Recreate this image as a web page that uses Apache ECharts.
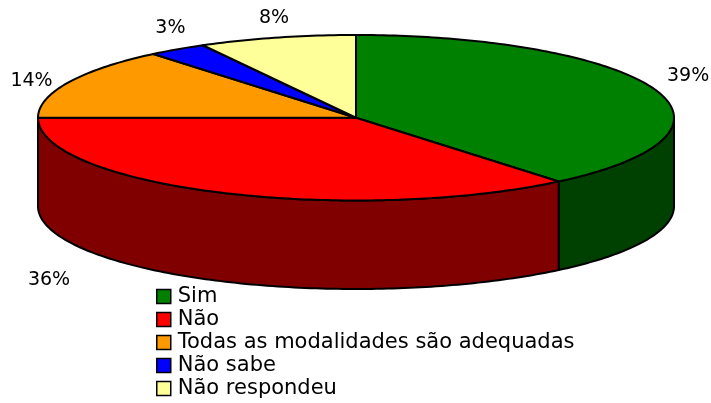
<!DOCTYPE html>
<html>
<head>
<meta charset="utf-8">
<script src="https://cdn.jsdelivr.net/npm/echarts@6/dist/echarts.min.js"></script>
<style>
  html, body { margin: 0; padding: 0; background: #fff; }
  #chart { width: 711px; height: 403px; }
</style>
</head>
<body>
<div id="chart"></div>
<script>
  // dados do gráfico
  const categories = ['Sim', 'Não', 'Todas as modalidades são adequadas', 'Não sabe', 'Não respondeu']
  const shares = [39, 36, 14, 3, 8]
  const percentLabels = ['39%', '36%', '14%', '3%', '8%']

  // estilo
  const topColors = ['#008000', '#FF0000', '#FF9900', '#0000FF', '#FFFF99']
  const sideColors = ['#004000', '#800000', '#804C00', '#000080', '#80804C']
  const labelNudge = [[3, -5], [-158, -24], [-8, 9], [11, -1], [5, 5]] // ajuste fino dos rótulos (px)
  const DEPTH = 1.07 // altura da lateral, em unidades do raio vertical
  const FONT = '"DejaVu Sans", sans-serif'

  // início/fim acumulado de cada fatia (em %)
  let acc = 0
  const ranges = shares.map((v) => {
    const r = [acc, acc + v]
    acc += v
    return r
  })

  function arc(api, t0, t1, dy) {
    const pts = []
    const steps = Math.max(2, Math.ceil(((t1 - t0) * 180) / Math.PI))
    for (let k = 0; k <= steps; k++) {
      const t = t0 + ((t1 - t0) * k) / steps
      pts.push(api.coord([Math.sin(t), Math.cos(t) - dy]))
    }
    return pts
  }

  function makeRender(i) {
    return function (params, api) {
      const a0 = (api.value(0) / 100) * Math.PI * 2
      const a1 = (api.value(1) / 100) * Math.PI * 2
      const children = []
      const line = { stroke: '#000', lineWidth: 2, lineJoin: 'round' }

      // lateral visível (metade da frente)
      const s0 = Math.max(a0, Math.PI / 2)
      const s1 = Math.min(a1, (Math.PI * 3) / 2)
      if (s1 > s0) {
        const pts = arc(api, s0, s1, 0).concat(arc(api, s0, s1, DEPTH).reverse())
        children.push({
          type: 'polygon',
          shape: { points: pts },
          style: Object.assign({ fill: sideColors[i] }, line),
        })
      }

      // face superior
      const top = [api.coord([0, 0])].concat(arc(api, a0, a1, 0))
      children.push({
        type: 'polygon',
        shape: { points: top },
        style: Object.assign({ fill: topColors[i] }, line),
      })

      // rótulo de percentagem
      const mid = (a0 + a1) / 2
      const front = Math.cos(mid) < 0 ? DEPTH : 0
      const p = api.coord([Math.sin(mid) * 1.1, Math.cos(mid) * 1.3 - front])
      children.push({
        type: 'text',
        style: {
          text: percentLabels[i],
          x: p[0] + labelNudge[i][0],
          y: p[1] + labelNudge[i][1],
          align: 'center',
          verticalAlign: 'middle',
          fill: '#000',
          fontSize: 19,
          fontFamily: FONT,
        },
      })
      return { type: 'group', children }
    }
  }

  const chart = echarts.init(document.getElementById('chart'))
  chart.setOption({
    animation: false,
    grid: { left: 38, right: 37, top: 35, bottom: 114 },
    xAxis: { type: 'value', min: -1, max: 1, show: false },
    yAxis: { type: 'value', min: -1 - DEPTH, max: 1, show: false },
    legend: {
      data: categories,
      orient: 'vertical',
      left: 156,
      top: 286,
      padding: 0,
      height: 117,
      icon: 'rect',
      itemWidth: 14,
      itemHeight: 14,
      itemGap: 2,
      itemStyle: { borderColor: '#000', borderWidth: 1.5 },
      textStyle: { fontSize: 21, fontFamily: FONT, color: '#000', padding: [0, 0, 0, 2] },
      selectedMode: false,
    },
    series: categories.map((name, i) => ({
      name,
      type: 'custom',
      coordinateSystem: 'cartesian2d',
      clip: false,
      itemStyle: { color: topColors[i] },
      renderItem: makeRender(i),
      data: [ranges[i]],
    })),
  })
</script>
</body>
</html>
